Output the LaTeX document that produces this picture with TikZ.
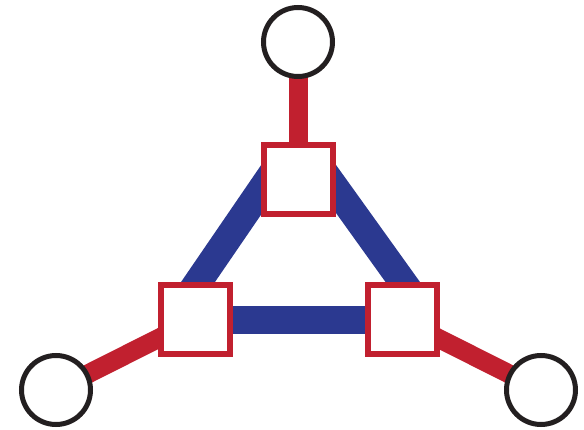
\documentclass[tikz,border=0pt]{standalone}
\definecolor{myred}{HTML}{C1202F}
\definecolor{myblue}{HTML}{2B3990}
\definecolor{myblack}{HTML}{231F20}
\begin{document}
\begin{tikzpicture}[x=1pt,y=-1pt,
  sq/.style={draw=myred,fill=white,line width=6pt,minimum size=69pt,inner sep=0pt,rectangle},
  term/.style={draw=myblack,fill=white,line width=5pt,minimum size=69pt,inner sep=0pt,circle},
  blueedge/.style={myblue,line width=28pt},
  rededge/.style={myred,line width=19pt}]
\useasboundingbox (0,0) rectangle (584,430);
\coordinate (ct) at (298,180);
\coordinate (cl) at (195,320);
\coordinate (cr) at (402,320);
\coordinate (ot) at (298,42);
\coordinate (ol) at (56,390);
\coordinate (or) at (541,390);
% blue triangle (vertices hidden under the boxes)
\coordinate (vt) at (298,136);
\coordinate (vl) at (172,320);
\coordinate (vr) at (430,320);
\draw[blueedge,shorten <=41pt,shorten >=24pt] (vt) -- (vl);
\draw[blueedge,shorten <=41pt,shorten >=24pt] (vt) -- (vr);
\draw[blueedge,shorten <=30pt,shorten >=30pt] (vl) -- (vr);
\draw[rededge] (ot) -- (ct);
\draw[rededge] (ol) -- (cl);
\draw[rededge] (or) -- (cr);
\node[sq] (st) at (ct) {};
\node[sq] (sl) at (cl) {};
\node[sq] (sr) at (cr) {};
\node[term] (tt) at (ot) {};
\node[term] (tl) at (ol) {};
\node[term] (tr) at (or) {};
\end{tikzpicture}
\end{document}
